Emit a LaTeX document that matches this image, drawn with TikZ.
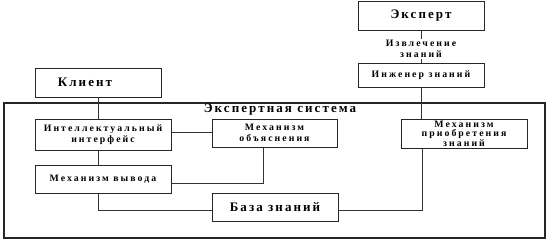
\documentclass[tikz,border=0pt]{standalone}
\usepackage{fontspec}
\setmainfont{Liberation Serif}
\newfontfamily\spc[LetterSpace=21]{Liberation Serif}
\newfontfamily\spcb[LetterSpace=16]{Liberation Serif}
\begin{document}
\begin{tikzpicture}[x=1pt,y=-1pt,
  box/.style={draw=black!85,line width=1pt,inner sep=0pt,align=center},
  big/.style={font=\spcb\fontsize{13}{14}\selectfont\bfseries},
  sml/.style={font=\spc\fontsize{9.8}{11}\selectfont\bfseries},
  con/.style={draw=black!80,line width=0.9pt}]
\useasboundingbox (0,0) rectangle (551,244);
% outer frame
\draw[black!85,line width=1.2pt] (4,103) rectangle (545,238);
\node[big] (es) at (280,110) {Экспертная система};
% boxes
\node[box,big,minimum width=126,minimum height=29] (kl) at (98,82.5) {Клиент\hspace*{26pt}};
\node[box,big,minimum width=126,minimum height=29] (ex) at (421,16) {Эксперт};
\node[box,sml,minimum width=126,minimum height=24] (ing) at (421,75) {Инженер знаний};
\node[box,sml,minimum width=136,minimum height=31] (ii) at (103,134.5) {Интеллектуальный\\интерфейс};
\node[box,sml,minimum width=125,minimum height=28] (ob) at (274.5,133) {Механизм\\объяснения};
\node[box,sml,minimum width=136,minimum height=28] (vy) at (103,179) {Механизм вывода};
\node[box,big,minimum width=126,minimum height=28] (bz) at (275,207) {База знаний};
\node[box,sml,minimum width=126,minimum height=29,font=\spc\fontsize{9.8}{9.5}\selectfont\bfseries] (pr) at (464,133.5) {Механизм\\приобретения\\знаний};
% connectors
\node[sml,fill=white,inner sep=1pt,align=center] (iz) at (421,49) {Извлечение\\знаний};
\draw[con] (ex.south -| iz) -- (iz.north);
\draw[con] (iz.south) -- (ing.north -| iz);
\draw[con] (ing.south) -- (pr.north -| ing);
\draw[con] (kl.south) -- (kl.south |- ii.north);
\draw[con] (ii.east |- 0,132) -- (ob.west |- 0,132);
\draw[con] (ii.south -| kl) -- (vy.north -| kl);
\coordinate (c1) at (263,183);
\draw[con] (vy.east |- c1) -- (c1) -- (c1 |- ob.south);
\coordinate (c2) at (98,210);
\draw[con] (vy.south -| c2) -- (c2) -- (bz.west |- c2);
\coordinate (c3) at (422,210);
\draw[con] (bz.east |- c3) -- (c3) -- (c3 |- pr.south);
\end{tikzpicture}
\end{document}
